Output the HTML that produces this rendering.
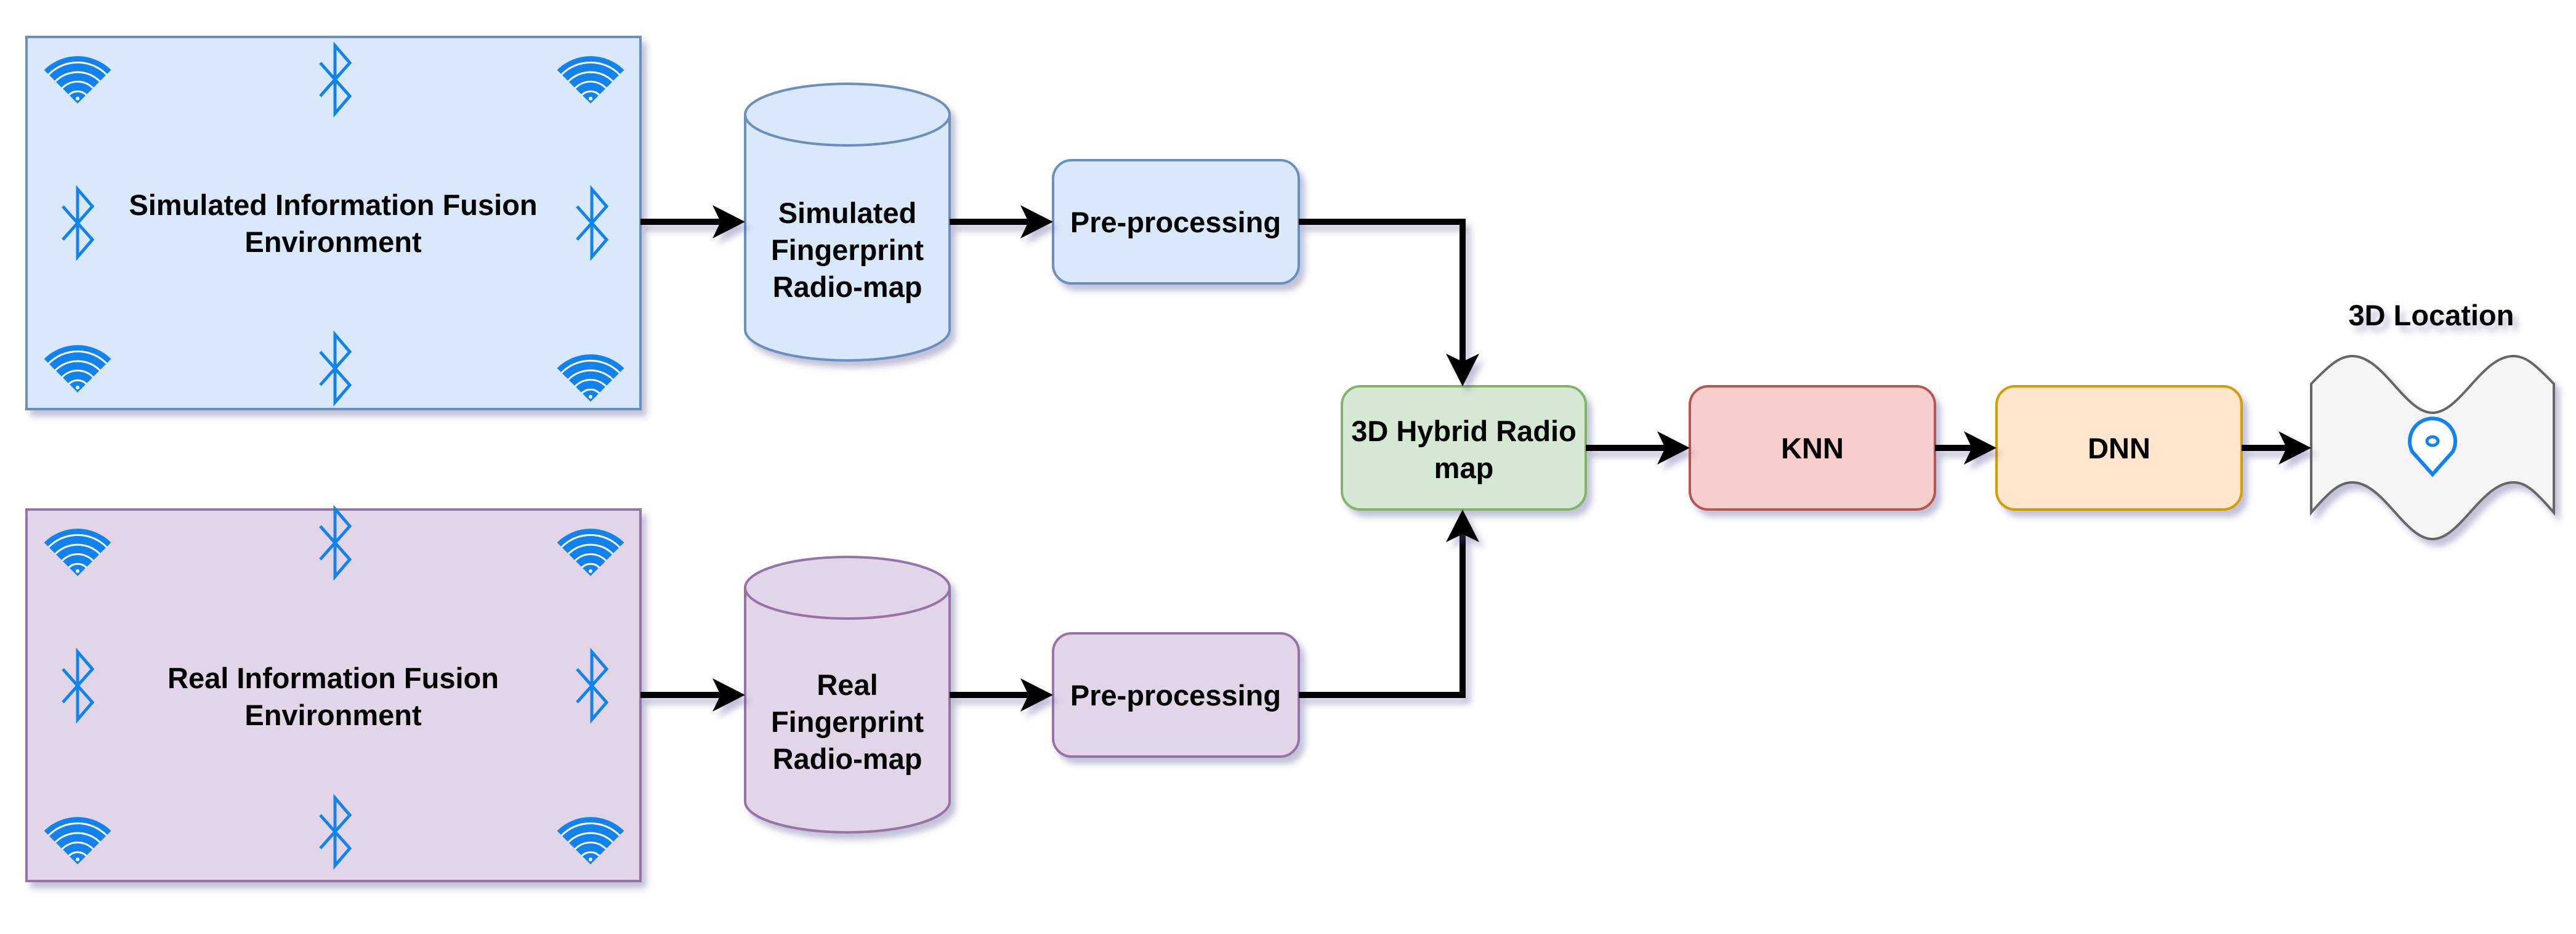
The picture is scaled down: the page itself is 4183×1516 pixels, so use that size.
<!DOCTYPE html>
<html><head><meta charset="utf-8"><style>
html,body{margin:0;padding:0;background:#fff;}
svg{display:block;}
text{font-family:"Liberation Sans",Arial,sans-serif;font-weight:bold;fill:#000;}
</style></head><body>
<svg width="4183" height="1516" viewBox="0 0 4183 1516" xmlns="http://www.w3.org/2000/svg">
<defs>
<filter id="sh" x="-10%" y="-10%" width="130%" height="130%">
<feDropShadow dx="8" dy="10" stdDeviation="5" flood-color="#505090" flood-opacity="0.35"/>
</filter>
<g id="wifi">
<path d="M0,0 L-54.4,-54.4 A77,77 0 0 1 54.4,-54.4 Z" fill="#1283ee"/>
<path d="M-47,-47 A66,66 0 0 1 47,-47" fill="none" stroke="#fff" stroke-width="3"/>
<path d="M-36,-36 A51,51 0 0 1 36,-36" fill="none" stroke="#fff" stroke-width="3"/>
<path d="M-25,-25 A35,35 0 0 1 25,-25" fill="none" stroke="#fff" stroke-width="3"/>
<path d="M-14,-14 A20,20 0 0 1 14,-14" fill="none" stroke="#fff" stroke-width="3"/>
<circle cx="0" cy="-8" r="3" fill="#fff"/>
</g>
<path id="bt" d="M-24,-27 L24,27 L0,55 L0,-55 L24,-27 L-24,27" fill="none" stroke="#1283ee" stroke-width="5" stroke-linejoin="miter"/>
</defs>

<!-- Simulated environment -->
<rect x="43" y="60" width="997" height="604" fill="#dae8fc" stroke="#6c8ebf" stroke-width="4" filter="url(#sh)"/>
<use href="#wifi" x="126" y="168"/><use href="#wifi" x="959" y="168"/>
<use href="#wifi" x="126" y="637"/><use href="#wifi" x="959" y="652"/>
<use href="#bt" x="544" y="129"/><use href="#bt" x="126" y="362"/>
<use href="#bt" x="961" y="362"/><use href="#bt" x="544" y="598"/>
<text x="541" y="349" font-size="47" text-anchor="middle">Simulated Information Fusion</text>
<text x="541" y="409" font-size="47" text-anchor="middle">Environment</text>

<!-- Real environment -->
<rect x="43" y="827" width="997" height="603" fill="#e1d5e7" stroke="#9673a6" stroke-width="4" filter="url(#sh)"/>
<use href="#wifi" x="126" y="935"/><use href="#wifi" x="959" y="935"/>
<use href="#wifi" x="126" y="1403"/><use href="#wifi" x="959" y="1403"/>
<use href="#bt" x="544" y="881"/><use href="#bt" x="126" y="1113"/>
<use href="#bt" x="961" y="1113"/><use href="#bt" x="544" y="1350"/>
<text x="541" y="1117" font-size="47" text-anchor="middle">Real Information Fusion</text>
<text x="541" y="1177" font-size="47" text-anchor="middle">Environment</text>

<!-- Cylinders -->
<g filter="url(#sh)">
<path d="M1210,186 L1210,535 A166,50 0 0 0 1542,535 L1542,186 A166,50 0 0 0 1210,186 Z" fill="#dae8fc" stroke="#6c8ebf" stroke-width="4"/>
</g>
<path d="M1210,186 A166,50 0 0 0 1542,186" fill="none" stroke="#6c8ebf" stroke-width="4"/>
<text x="1376" y="362" font-size="47" text-anchor="middle">Simulated</text>
<text x="1376" y="422" font-size="47" text-anchor="middle">Fingerprint</text>
<text x="1376" y="482" font-size="47" text-anchor="middle">Radio-map</text>

<g filter="url(#sh)">
<path d="M1210,954 L1210,1301 A166,50 0 0 0 1542,1301 L1542,954 A166,50 0 0 0 1210,954 Z" fill="#e1d5e7" stroke="#9673a6" stroke-width="4"/>
</g>
<path d="M1210,954 A166,50 0 0 0 1542,954" fill="none" stroke="#9673a6" stroke-width="4"/>
<text x="1376" y="1128" font-size="47" text-anchor="middle">Real</text>
<text x="1376" y="1188" font-size="47" text-anchor="middle">Fingerprint</text>
<text x="1376" y="1248" font-size="47" text-anchor="middle">Radio-map</text>

<!-- Pre-processing -->
<rect x="1710" y="260" width="399" height="200" rx="30" fill="#dae8fc" stroke="#6c8ebf" stroke-width="4" filter="url(#sh)"/>
<text x="1909" y="377" font-size="47" text-anchor="middle">Pre-processing</text>
<rect x="1710" y="1028" width="399" height="200" rx="30" fill="#e1d5e7" stroke="#9673a6" stroke-width="4" filter="url(#sh)"/>
<text x="1909" y="1145" font-size="47" text-anchor="middle">Pre-processing</text>

<!-- Hybrid, KNN, DNN -->
<rect x="2179" y="627" width="396" height="200" rx="30" fill="#d5e8d4" stroke="#82b366" stroke-width="4" filter="url(#sh)"/>
<text x="2377" y="716" font-size="47" text-anchor="middle">3D Hybrid Radio</text>
<text x="2377" y="776" font-size="47" text-anchor="middle">map</text>
<rect x="2744" y="627" width="398" height="200" rx="30" fill="#f8cecc" stroke="#b85450" stroke-width="4" filter="url(#sh)"/>
<text x="2943" y="744" font-size="47" text-anchor="middle">KNN</text>
<rect x="3242" y="627" width="398" height="200" rx="30" fill="#ffe6cc" stroke="#d79b00" stroke-width="4" filter="url(#sh)"/>
<text x="3441" y="744" font-size="47" text-anchor="middle">DNN</text>

<!-- Map -->
<path d="M3753,623 C3785,590 3800,578 3820,578 C3870,578 3905,670 3950,670 C3995,670 4030,578 4081,578 C4101,578 4115,590 4147,623 L4147,832 C4115,795 4101,783 4081,783 C4030,783 3995,875 3950,875 C3905,875 3870,783 3820,783 C3800,783 3785,795 3753,832 Z" fill="#f5f5f5" stroke="#666" stroke-width="4" filter="url(#sh)"/>
<path d="M3950,770 L3917,733 A37,37 0 1 1 3983,733 Z" fill="#fff" stroke="#1283ee" stroke-width="6" stroke-linejoin="miter"/>
<ellipse cx="3950" cy="716" rx="9" ry="7" fill="none" stroke="#1283ee" stroke-width="5"/>
<text x="3948" y="528" font-size="47" text-anchor="middle" filter="url(#sh)">3D Location</text>

<!-- Connectors -->
<g stroke="#000" stroke-width="10" fill="none" filter="url(#sh)">
<path d="M1040,360 H1170"/><path d="M1542,360 H1670"/>
<path d="M2109,360 H2375 V590"/>
<path d="M1040,1128 H1170"/><path d="M1542,1128 H1670"/>
<path d="M2109,1128 H2375 V865"/>
<path d="M2575,727 H2705"/><path d="M3142,727 H3205"/><path d="M3640,727 H3715"/>
</g>
<g fill="#000" filter="url(#sh)">
<polygon points="1210,360 1157,333 1170,360 1157,387"/>
<polygon points="1710,360 1657,333 1670,360 1657,387"/>
<polygon points="2375,627 2348,574 2375,587 2402,574"/>
<polygon points="1210,1128 1157,1101 1170,1128 1157,1155"/>
<polygon points="1710,1128 1657,1101 1670,1128 1657,1155"/>
<polygon points="2375,827 2348,880 2375,867 2402,880"/>
<polygon points="2744,727 2691,700 2704,727 2691,754"/>
<polygon points="3242,727 3189,700 3202,727 3189,754"/>
<polygon points="3753,727 3700,700 3713,727 3700,754"/>
</g>
</svg>
</body></html>
